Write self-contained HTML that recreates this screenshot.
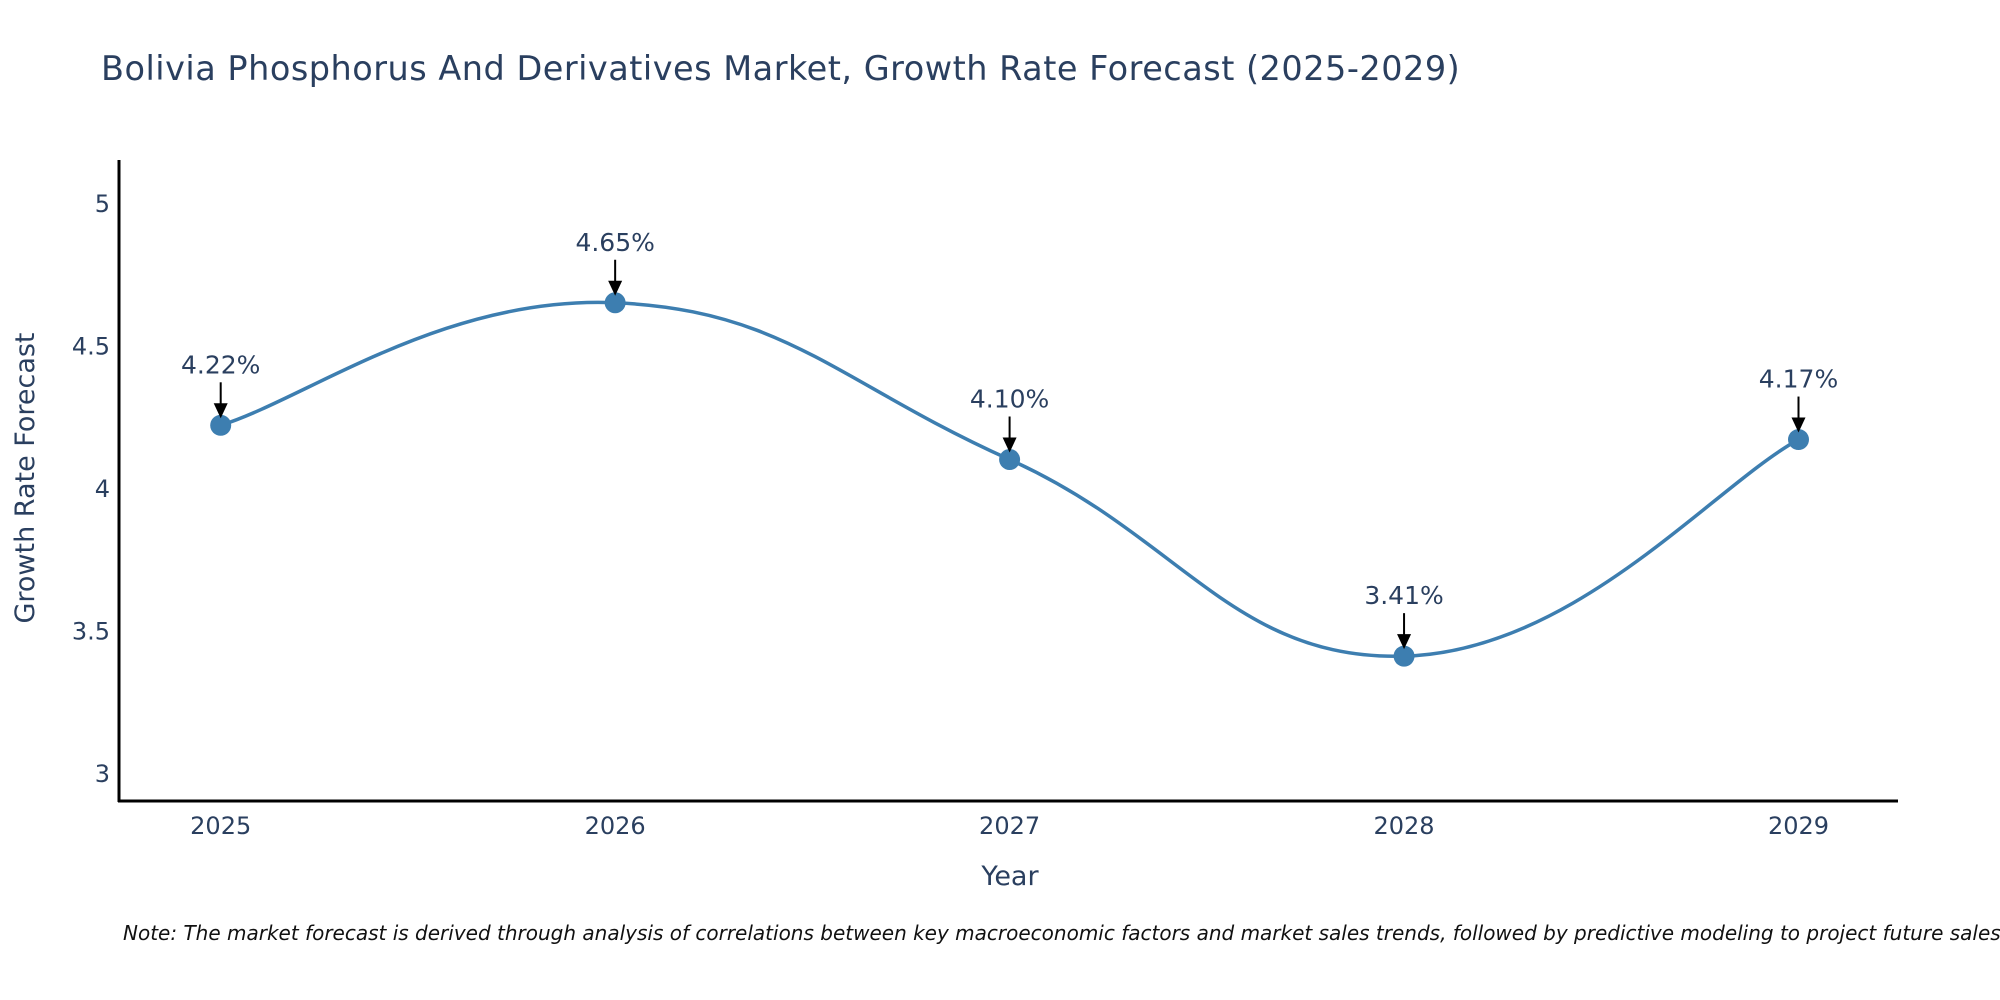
<!DOCTYPE html>
<html><head><meta charset="utf-8"><style>
html,body{margin:0;padding:0;background:#fff;overflow:hidden;}
svg{display:block;font-family:"DejaVu Sans","Liberation Sans",sans-serif;}
</style></head><body>
<svg id="chart" width="2000" height="1000" xmlns="http://www.w3.org/2000/svg">
<rect width="2000" height="1000" fill="#fff"/>
<text x="101" y="80" font-size="33.5" letter-spacing="0.5" fill="#2a3f5f">Bolivia Phosphorus And Derivatives Market, Growth Rate Forecast (2025-2029)</text>
<g id="yticks"></g>
<g id="xticks"></g>
<line x1="119" y1="160" x2="119" y2="802" stroke="#000" stroke-width="3"/>
<line x1="118" y1="801" x2="1898" y2="801" stroke="#000" stroke-width="3"/>
<text transform="translate(34,478) rotate(-90)" text-anchor="middle" font-size="27" fill="#2a3f5f">Growth Rate Forecast</text>
<text x="1010" y="885" text-anchor="middle" font-size="27" fill="#2a3f5f">Year</text>
<path id="line" fill="none" stroke="#3d7eb0" stroke-width="3.5"/>
<g id="marks"></g>
<text x="123" y="940" font-size="20" font-style="italic" fill="#111">Note: The market forecast is derived through analysis of correlations between key macroeconomic factors and market sales trends, followed by predictive modeling to project future sales.</text>
</svg>
<script>
const categories = ["2025","2026","2027","2028","2029"];
const values = [4.22, 4.65, 4.10, 3.41, 4.17];
const labels = ["4.22%","4.65%","4.10%","3.41%","4.17%"];
const yTicks = [3, 3.5, 4, 4.5, 5];
const yTickLabels = ["3","3.5","4","4.5","5"];

const NS = "http://www.w3.org/2000/svg";
const x = i => 220.7 + i * 394.45;
const y = v => 773 - (v - 3) * 285;
function mk(tag, attrs, parent){const e=document.createElementNS(NS,tag);for(const k in attrs)e.setAttribute(k,attrs[k]);parent.appendChild(e);return e;}

const yt = document.getElementById('yticks');
yTicks.forEach((t,i)=>{
  const e = mk('text',{x:110,y:y(t)+9,'text-anchor':'end','font-size':24,fill:'#2a3f5f'},yt);
  e.textContent = yTickLabels[i];
  
  
});
const xt = document.getElementById('xticks');
categories.forEach((c,i)=>{
  const e = mk('text',{x:x(i),y:834,'text-anchor':'middle','font-size':24,fill:'#2a3f5f'},xt);
  e.textContent = c;
  
  
});

const pts = values.map((v,i)=>[x(i),y(v)]);
let d = `M${pts[0][0]},${pts[0][1]}`;
const tension = 0.65;
for(let i=0;i<pts.length-1;i++){
  const p0=pts[Math.max(0,i-1)], p1=pts[i], p2=pts[i+1], p3=pts[Math.min(pts.length-1,i+2)];
  const c1=[p1[0]+(p2[0]-p0[0])*tension/3, p1[1]+(p2[1]-p0[1])*tension/3];
  const c2=[p2[0]-(p3[0]-p1[0])*tension/3, p2[1]-(p3[1]-p1[1])*tension/3];
  d += ` C${c1[0]},${c1[1]} ${c2[0]},${c2[1]} ${p2[0]},${p2[1]}`;
}
document.getElementById('line').setAttribute('d', d);

const g = document.getElementById('marks');
values.forEach((v,i)=>{
  const cx=x(i), cy=y(v);
  const c = mk('circle',{cx:cx,cy:cy,r:10.5,fill:'#3d7eb0'},g);
  
  
  const ln = mk('line',{x1:cx,y1:cy-43,x2:cx,y2:cy-20,stroke:'#000','stroke-width':2},g);
  
  
  const hd = mk('polygon',{points:`${cx-7},${cy-22} ${cx+7},${cy-22} ${cx},${cy-7}`,fill:'#000'},g);
  
  
  const t = mk('text',{x:cx,y:cy-52,'text-anchor':'middle','font-size':25,fill:'#2a3f5f'},g);
  t.textContent = labels[i];
  
  
});
</script>
</body></html>
